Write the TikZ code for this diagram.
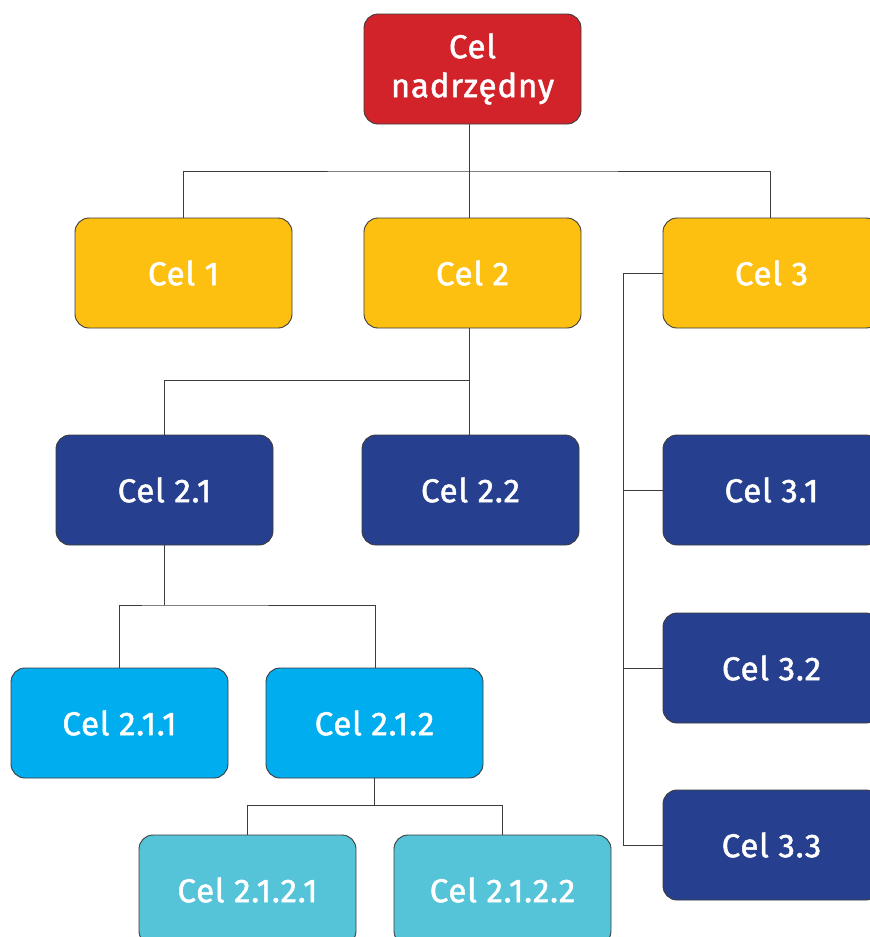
\documentclass[tikz,border=0pt]{standalone}
\usepackage{fontspec}
\setmainfont{Fira Sans}
\newfontfamily\goalfont{Fira Sans}[FakeBold=1.5, LetterSpace=2.5]
\definecolor{cred}{RGB}{210,35,42}
\definecolor{cyel}{RGB}{253,192,16}
\definecolor{cdark}{RGB}{38,64,143}
\definecolor{clight}{RGB}{0,174,239}
\definecolor{ccyan}{RGB}{85,195,216}
\definecolor{cedge}{RGB}{60,60,60}
\tikzset{
  goal/.style={draw=cedge, line width=0.9pt, rounded corners=14pt, minimum width=217pt, minimum height=110pt,
    text=white, font=\goalfont\fontsize{33}{39}\selectfont, align=center, inner sep=0pt},
  red/.style={goal, fill=cred},
  yel/.style={goal, fill=cyel},
  dark/.style={goal, fill=cdark},
  light/.style={goal, fill=clight},
  cyan/.style={goal, fill=ccyan},
  link/.style={draw=cedge, line width=0.9pt}
}
\begin{document}
\begin{tikzpicture}[x=1pt,y=-1pt]
\useasboundingbox (0,0) rectangle (870,937);
\clip (0,0) rectangle (870,937);
\node[red] (root) at (472.5,69) {Cel\\nadrzędny};
\node[yel] (c1) at (183.5,273) {Cel 1};
\node[yel] (c2) at (472.5,273) {Cel 2};
\node[yel] (c3) at (771.5,273) {Cel 3};
\node[dark] (c21) at (164.5,490) {Cel 2.1};
\node[dark] (c22) at (470.5,490) {Cel 2.2};
\node[dark] (c31) at (771.5,490) {Cel 3.1};
\node[dark] (c32) at (771.5,668) {Cel 3.2};
\node[dark] (c33) at (771.5,845) {Cel 3.3};
\node[light] (c211) at (119.5,723) {Cel 2.1.1};
\node[light] (c212) at (374.5,723) {Cel 2.1.2};
\node[cyan] (c2121) at (247.5,890) {Cel 2.1.2.1};
\node[cyan] (c2122) at (502.5,890) {Cel 2.1.2.2};
% connectors
\coordinate (j0) at (469,171);
\draw[link] (j0 |- root.south) -- (j0);
\draw[link] (c1.north -| 183,0) |- (j0) -| (c3.north -| 770,0);
\draw[link] (j0) -- (c2.north -| 469,0);
\coordinate (j2) at (469,380);
\draw[link] (c2.south -| j2) -- (j2);
\draw[link] (c21.north -| 164,0) |- (j2) -- (c22.north -| j2);
\coordinate (j21) at (164,605);
\draw[link] (c21.south -| j21) -- (j21);
\draw[link] (c211.north -| 119,0) |- (j21) -| (c212.north -| 375,0);
\coordinate (j212) at (374,805);
\draw[link] (c212.south -| j212) -- (j212);
\draw[link] (c2121.north -| 247,0) |- (j212) -| (c2122.north -| 502,0);
\coordinate (j3) at (623,273);
\draw[link] (c3.west) -- (j3) -- (j3 |- c33.west) -- (c33.west);
\draw[link] (j3 |- c31.west) -- (c31.west);
\draw[link] (j3 |- c32.west) -- (c32.west);
\end{tikzpicture}
\end{document}
